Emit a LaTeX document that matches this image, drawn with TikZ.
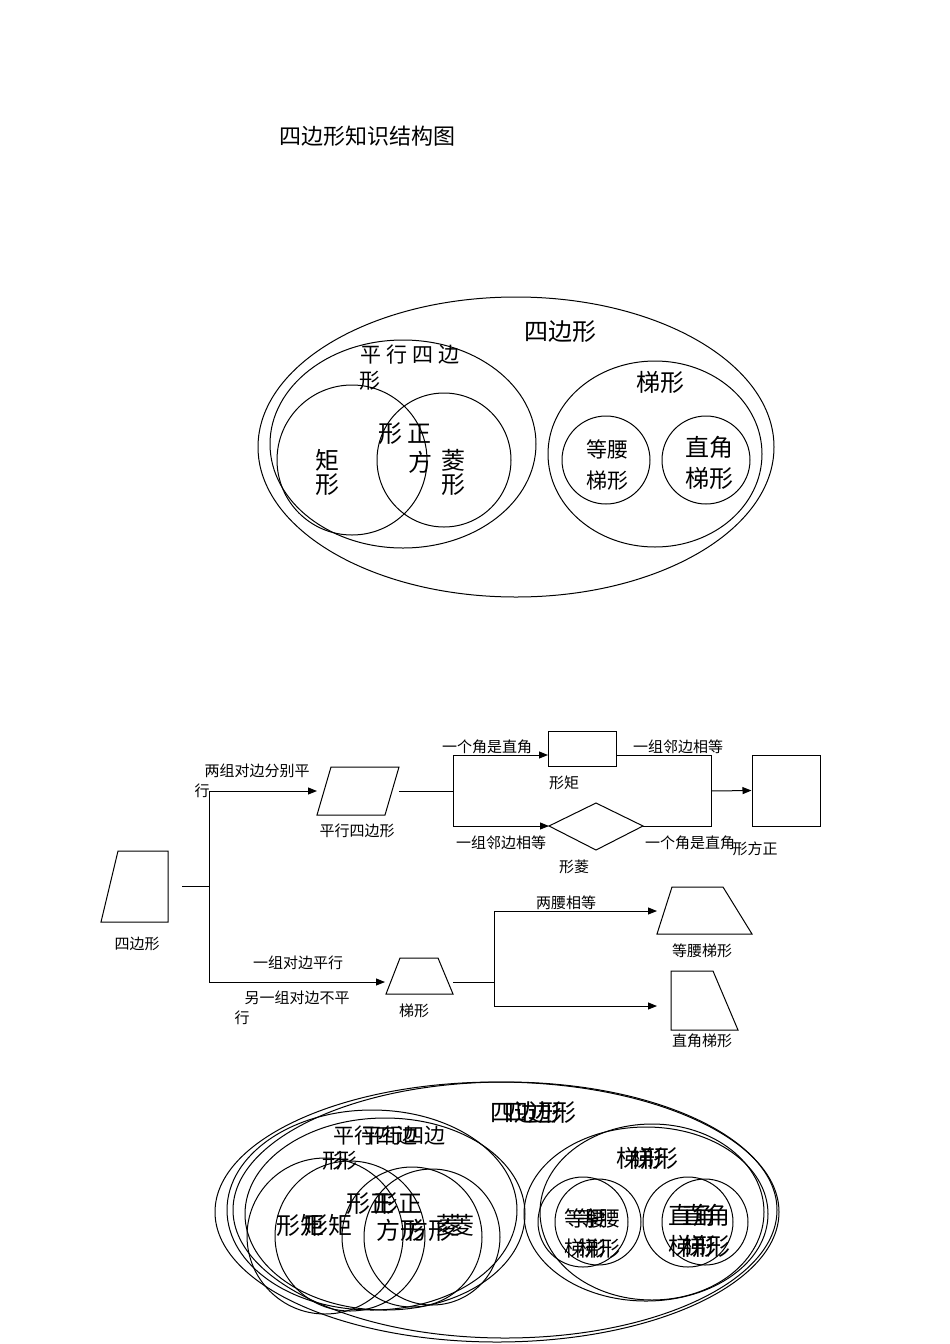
\documentclass[tikz,border=0pt]{standalone}
\usepackage{fontspec}
\setmainfont{Noto Sans CJK SC}
\usetikzlibrary{arrows.meta}
\begin{document}
\begin{tikzpicture}[x=1pt,y=-1pt,line width=1pt,
  lbl/.style={font=\fontsize{15}{15}\selectfont,inner sep=0pt},
  big/.style={font=\fontsize{24}{24}\selectfont,inner sep=0pt},
  mid/.style={font=\fontsize{21}{21}\selectfont,inner sep=0pt},
  arr/.style={-{Triangle[length=9pt,width=7pt]}}]
\useasboundingbox[fill=white] (0,0) rectangle (950,1344);
\node[font=\fontsize{22}{22}\selectfont] (title) at (367,136) {四边形知识结构图};
% top Venn
\draw (516,447) ellipse [x radius=258,y radius=150];
\draw (403,444) ellipse [x radius=133,y radius=104];
\draw (352,460) circle (75);
\draw (444,460) circle (67);
\draw (655,454) ellipse [x radius=107,y radius=93];
\draw (606,460) circle (44);
\draw (706,460) circle (44);
\node[big] (t1) at (560,332) {四边形};
\node[mid] (t2) at (410,355) {平 行 四 边};
\node[mid] (t3) at (370,381) {形};
\node[big,align=center] (t4) at (327,472) {矩\\形};
\node[big] (t5) at (405,434) {形 正};
\node[big] (t6) at (420,462) {方};
\node[big,align=center] (t7) at (453,472) {菱\\形};
\node[big] (t8) at (660,382) {梯形};
\node[mid] (t9) at (607,449) {等腰};
\node[mid] (t10) at (607,481) {梯形};
\node[big] (t11) at (709,447) {直角};
\node[big] (t12) at (709,478) {梯形};
% flowchart
\draw (118,851)--(168,851)--(168,922)--(101,922)--cycle;
\node[lbl] (q) at (137,944) {四边形};
\coordinate (j0) at (182,886); \coordinate (j1) at (209,886);
\coordinate (a1) at (209,791); \coordinate (a2) at (209,982);
\draw (j0)--(j1); \draw (a1)--(a2);
\coordinate (pin) at (317,791);
\draw[arr] (a1)--(pin);
\node[lbl] (l1) at (257,771) {两组对边分别平};
\node[lbl] (l1b) at (202,791) {行};
\draw (331,767)--(399,767)--(385,815)--(317,815)--cycle;
\node[lbl] (pl) at (357,831) {平行四边形};
\coordinate (p1) at (399,791); \coordinate (p2) at (453,791);
\coordinate (b1) at (453,755); \coordinate (b2) at (453,826);
\draw (p1)--(p2); \draw (b1)--(b2);
\node[draw,minimum width=68pt,minimum height=35pt,inner sep=0pt] (rect) at (582,748.5) {};
\draw[arr] (b1)--(548,755);
\node[lbl] (l2) at (487,747) {一个角是直角};
\node[lbl] (l3) at (564,783) {形矩};
\draw (549,826)--(596,803)--(643,826)--(596,850)--cycle;
\draw[arr] (b2)--(549,826);
\node[lbl] (l4) at (501,843) {一组邻边相等};
\node[lbl] (l5) at (574,867) {形菱};
\coordinate (c1) at (711,755); \coordinate (c2) at (711,826);
\draw (616,755)--(c1)--(c2)--(643,826);
\node[draw,minimum width=68pt,minimum height=71pt,inner sep=0pt] (sq) at (786,790.5) {};
\draw[arr] (711,791)--(sq.west);
\node[lbl] (l6) at (678,747) {一组邻边相等};
\node[lbl] (l7) at (690,843) {一个角是直角};
\node[lbl] (l8) at (755,849) {形方正};
\draw[arr] (a2)--(385,982);
\draw (400,958)--(438,958)--(453,994)--(386,994)--cycle;
\node[lbl] (l9) at (298,963) {一组对边平行};
\node[lbl] (l10) at (297,998) {另一组对边不平};
\node[lbl] (l11) at (242,1018) {行};
\node[lbl] (l12) at (414,1011) {梯形};
\coordinate (d1) at (494,911); \coordinate (d2) at (494,1006);
\draw (453,982)--(494,982); \draw (d1)--(d2);
\draw[arr] (d1)--(657,911);
\node[lbl] (l13) at (566,903) {两腰相等};
\draw (672,887)--(723,887)--(752,934)--(657,934)--cycle;
\node[lbl] (l14) at (702,951) {等腰梯形};
\draw[arr] (d2)--(657,1006);
\draw (671,971)--(713,971)--(738,1030)--(671,1030)--cycle;
\node[lbl] (l15) at (702,1041) {直角梯形};
% bottom duplicated Venn
\draw (497,1212) ellipse [x radius=282,y radius=130];
\draw (505,1210) ellipse [x radius=272,y radius=128];
\draw (372,1210) ellipse [x radius=145,y radius=100];
\draw (385,1214) ellipse [x radius=140,y radius=96];
\draw (325,1236) circle (78);
\draw (350,1236) circle (75);
\draw (412,1237) circle (70);
\draw (432,1237) circle (68);
\draw (646,1214) ellipse [x radius=122,y radius=87];
\draw (652,1212) ellipse [x radius=112,y radius=88];
\draw (583,1222) circle (45);
\draw (598,1222) circle (43);
\draw (688,1222) circle (45);
\draw (705,1222) circle (43);
\foreach \dx in {0,14}{
  \node[big] at (526+\dx,1113) {四边形};
  \node[mid] at (375+\dx*2,1136) {平行四边};
  \node[mid] at (333+\dx,1161) {形};
  \node[big] at (300+\dx*2,1225) {形矩};
  \node[big] at (370+\dx*2,1204) {形正};
  \node[big] at (400+\dx*2,1230) {方形};
  \node[big] at (448+\dx,1225) {菱};
  \node[big] at (640+\dx,1158) {梯形};
  \node[mid] at (585+\dx,1218) {等腰};
  \node[mid] at (585+\dx,1249) {梯形};
  \node[big] at (692+\dx,1215) {直角};
  \node[big] at (692+\dx,1246) {梯形};
}
\end{tikzpicture}
\end{document}
